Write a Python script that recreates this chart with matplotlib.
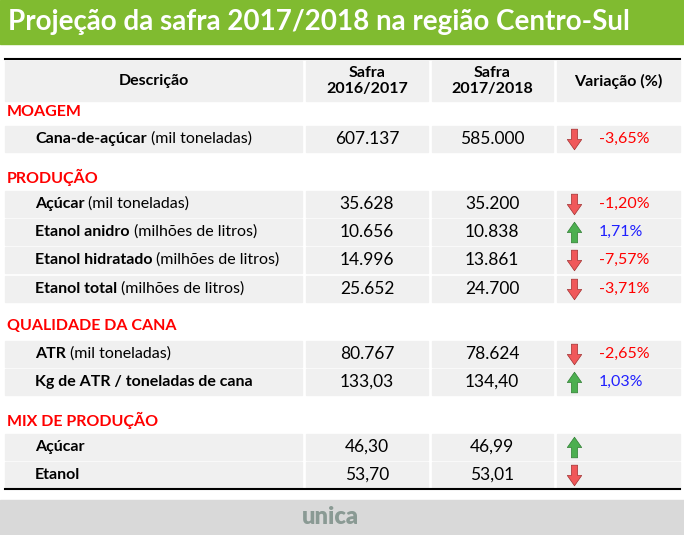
import matplotlib
matplotlib.use("Agg")
import matplotlib.pyplot as plt
from matplotlib.patches import Rectangle
from matplotlib.path import Path

plt.rcParams['font.family'] = ['Lato', 'DejaVu Sans']

title = "Projeção da safra 2017/2018 na região Centro-Sul"
headers = ["Descrição", "Safra\n2016/2017", "Safra\n2017/2018", "Variação (%)"]
sections = ["MOAGEM", "PRODUÇÃO", "QUALIDADE DA CANA", "MIX DE PRODUÇÃO"]
names = ["Cana-de-açúcar", "Açúcar", "Etanol anidro", "Etanol hidratado", "Etanol total",
         "ATR", "Kg de ATR / toneladas de cana", "Açúcar", "Etanol"]
units = ["(mil toneladas)", "(mil toneladas)", "(milhões de litros)", "(milhões de litros)",
         "(milhões de litros)", "(mil toneladas)", "", "", ""]
v1 = ["607.137", "35.628", "10.656", "14.996", "25.652", "80.767", "133,03", "46,30", "53,70"]
v2 = ["585.000", "35.200", "10.838", "13.861", "24.700", "78.624", "134,40", "46,99", "53,01"]
var = ["-3,65%", "-1,20%", "1,71%", "-7,57%", "-3,71%", "-2,65%", "1,03%", "", ""]
up = [False, False, True, False, False, False, True, True, False]

fig = plt.figure(figsize=(6.84, 5.35), dpi=100)
ax = fig.add_axes([0, 0, 1, 1])
ax.set_xlim(0, 684); ax.set_ylim(535, 0); ax.axis('off')

ax.add_patch(Rectangle((0, 0), 684, 44, color='#80bb30'))
ax.text(8, 22, title, color='white', fontsize=20, fontweight='bold', va='center', ha='left')
ax.add_patch(Rectangle((0, 500), 684, 35, color='#d9d9d9'))
ax.text(330, 517, "unica", color='#8a9a94', fontsize=17, fontweight='heavy', ha='center', va='center')

cols = [(5, 302), (306, 428), (432, 553), (557, 680)]
gray = '#f0f0f0'
ax.plot([5, 680], [59, 59], color='black', lw=1.5)
for (a, b), h in zip(cols, headers):
    ax.add_patch(Rectangle((a, 61), b - a, 40, color=gray))
    ax.text((a + b) / 2, 81, h, fontsize=11.5, fontweight='bold', ha='center', va='center', linespacing=1.25)

sec_y = [112, 177, 326, 420]
row_y = [139, 204, 232, 260, 289, 354, 382, 447, 475]
for s, y in zip(sections, sec_y):
    ax.text(7, y, s, color='#ff0000', fontsize=11.5, fontweight='bold', va='center')

up_path = Path([(-0.3, -1), (0.3, -1), (0.3, 0), (0.7, 0), (0, 1), (-0.7, 0), (-0.3, 0), (-0.3, -1)], closed=True)
dn_path = Path([(-0.3, 1), (0.3, 1), (0.3, 0), (0.7, 0), (0, -1), (-0.7, 0), (-0.3, 0), (-0.3, 1)], closed=True)

fig.canvas.draw()
inv = ax.transData.inverted()
for i, y in enumerate(row_y):
    for a, b in cols:
        ax.add_patch(Rectangle((a, y - 13), b - a, 26, color=gray, zorder=0))
    t = ax.text(35, y, names[i], fontsize=11.5, fontweight='bold', va='center', ha='left')
    if units[i]:
        bb = t.get_window_extent(renderer=fig.canvas.get_renderer())
        xe = inv.transform((bb.x1, bb.y0))[0]
        ax.text(xe + 4, y, units[i], fontsize=11.5, va='center', ha='left')
    ax.text(367, y, v1[i], fontsize=12.5, ha='center', va='center')
    ax.text(492, y, v2[i], fontsize=12.5, ha='center', va='center')
    ax.scatter([574], [y], marker=up_path if up[i] else dn_path, s=220,
               color='#4caf50' if up[i] else '#f0585a', edgecolors='#2e7d32' if up[i] else '#a03030',
               linewidths=0.5, zorder=3)
    if var[i]:
        ax.text(599, y, var[i], fontsize=11.5, va='center', ha='left',
                color='#2020ff' if up[i] else '#ff0000')

ax.plot([5, 680], [489, 489], color='black', lw=1.5)
fig.savefig("out.png", dpi=100)
